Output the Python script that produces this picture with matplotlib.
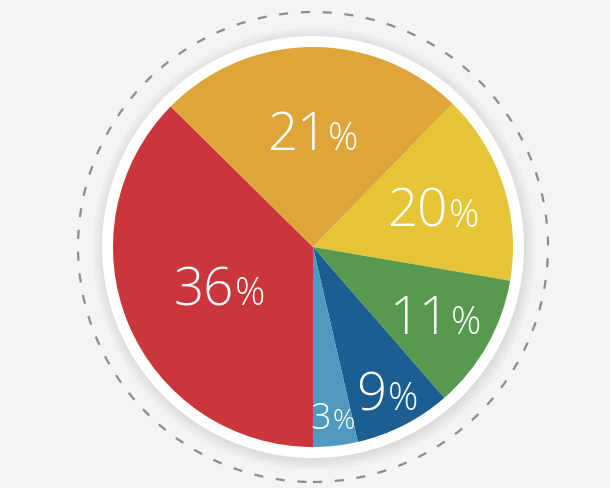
import matplotlib
matplotlib.use("Agg")
import numpy as np
from matplotlib import pyplot as plt
from matplotlib.patches import Circle

# Slice shares as drawn (clockwise from the bottom) and their printed labels
shares = [37.4, 24.9, 15.4, 10.9, 7.8, 3.6]
numbers = ["36", "21", "20", "11", "9", "3"]
colors = ["#CA363C", "#DEA53B", "#E5C535", "#56994F", "#1C5D92", "#5299BF"]

# label distance from centre (fraction of radius) and font sizes
label_dist = [0.51, 0.58, 0.63, 0.70, 0.81, 0.85]
num_size = [38, 38, 38, 38, 38, 26]
pct_size = [27, 27, 27, 27, 27, 20]

W, H = 610, 488
cx, cy = 313, 488 - 247
R = 200

plt.rcParams["lines.scale_dashes"] = False
fig = plt.figure(figsize=(W / 100, H / 100), dpi=100, facecolor="#F4F4F4")
ax = fig.add_axes([0, 0, 1, 1])

# soft shadow round the white ring
for k in range(12):
    ax.add_patch(Circle((cx + 1, cy - 2), 211 + k, color="#a0a0a0",
                        alpha=0.018, lw=0, zorder=1))
ax.add_patch(Circle((cx, cy), 211, color="white", lw=0, zorder=2))

# dashed outer circle
ax.add_patch(Circle((cx, cy), 235, fill=False, ec="#8c8c8c", lw=1.6,
                    linestyle=(0, (6.5, 9.2)), zorder=2))

wedges, _ = ax.pie(shares, colors=colors, startangle=-90, counterclock=False,
                   center=(cx, cy), radius=R, frame=True,
                   wedgeprops={"linewidth": 0, "zorder": 3})
ax.set_xlim(0, W)
ax.set_ylim(0, H)
ax.set_aspect("equal")
ax.axis("off")

fig.canvas.draw()
rend = fig.canvas.get_renderer()
font = ["Open Sans", "DejaVu Sans"]
for w, num, d, ns, ps in zip(wedges, numbers, label_dist, num_size, pct_size):
    mid = np.deg2rad((w.theta1 + w.theta2) / 2)
    lx = cx + d * R * np.cos(mid)
    ly = cy + d * R * np.sin(mid)
    base = ly - 0.714 * ns * 100 / 72 / 2
    t1 = ax.text(lx, base, num, fontsize=ns, color="white", family=font,
                 fontweight="light", ha="right", va="baseline", zorder=5)
    t2 = ax.text(lx, base, "%", fontsize=ps, color="white", family=font,
                 fontweight="light", ha="left", va="baseline", zorder=5)
    w1 = t1.get_window_extent(rend).width
    w2 = t2.get_window_extent(rend).width
    shift = (w1 - w2) / 2
    t1.set_x(lx + shift)
    t2.set_x(lx + shift + 1)

fig.savefig("out.png", dpi=100, facecolor=fig.get_facecolor())
